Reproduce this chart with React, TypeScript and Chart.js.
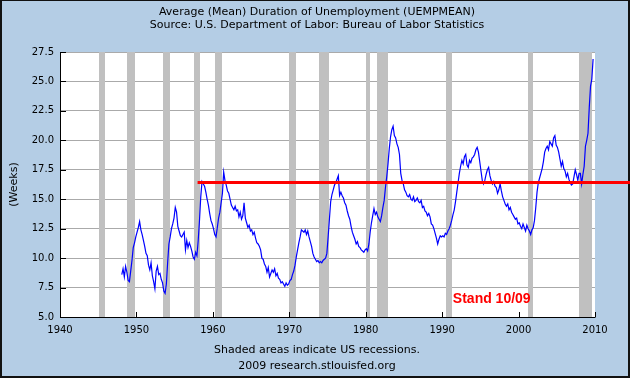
import React, { useEffect, useRef } from 'react';
import { Chart, registerables } from 'chart.js';

Chart.register(...registerables);

// ---- Data: bi-monthly readings (Feb, Apr, Jun, Aug, Oct, Dec), weeks ----
const START_YEAR = 1948 + 1 / 12;
const STEP_YEARS = 1 / 6;

const V_1948_1949 = [
  8.6, 9.1, 8.4, 9.3, 8.8, 8.1,
  8.0, 8.9, 9.8, 10.9, 11.3, 11.8,
];
const V_1950S = [
  12.2, 12.6, 13.1, 12.4, 12.0, 11.5,
  11.0, 10.4, 10.2, 9.4, 9.0, 9.6,
  8.5, 8.0, 7.4, 8.9, 9.3, 8.6,
  8.7, 8.2, 7.9, 7.2, 7.0, 7.8,
  9.6, 11.2, 11.8, 12.5, 12.9, 13.4,
  14.3, 13.9, 12.7, 12.3, 11.9, 11.8,
  12.0, 12.2, 10.7, 11.5, 10.9, 11.3,
  11.0, 10.6, 10.1, 9.9, 10.5, 10.2,
  11.5, 13.2, 15.2, 16.5, 16.3, 16.1,
  15.6, 15.0, 14.5, 13.8, 13.2, 12.9,
];
const V_1960S = [
  12.5, 12.0, 11.8, 12.6, 13.4, 13.9,
  14.7, 15.5, 17.3, 16.6, 16.2, 15.7,
  15.5, 15.0, 14.5, 14.3, 14.1, 14.4,
  14.0, 14.1, 13.5, 13.9, 13.3, 13.6,
  14.7, 13.4, 13.0, 12.6, 12.8, 12.3,
  12.4, 12.0, 12.2, 11.7, 11.3, 11.2,
  11.0, 10.7, 10.0, 9.9, 9.5, 9.3,
  8.8, 9.2, 8.4, 8.7, 9.0, 8.8,
  9.1, 8.5, 8.7, 8.3, 8.2, 7.9,
  8.0, 7.8, 7.6, 7.9, 7.7, 7.8,
];
const V_1970S = [
  8.1, 8.2, 8.6, 8.9, 9.4, 10.1,
  10.7, 11.3, 11.8, 12.4, 12.3, 12.2,
  12.4, 12.0, 12.3, 11.8, 11.4, 11.0,
  10.4, 10.1, 9.9, 9.7, 9.8, 9.6,
  9.7, 9.6, 9.8, 9.9, 10.0, 10.4,
  11.8, 13.3, 14.8, 15.4, 15.8, 16.2,
  16.4, 16.7, 17.0, 15.3, 15.6, 15.3,
  15.1, 14.7, 14.5, 14.0, 13.6, 13.3,
  12.7, 12.2, 11.9, 11.6, 11.2, 11.4,
  11.0, 10.9, 10.7, 10.6, 10.5, 10.7,
];
const V_1980S = [
  10.8, 10.6, 11.2, 12.2, 13.0, 13.6,
  14.2, 13.7, 13.9, 13.5, 13.3, 13.1,
  13.6, 14.3, 14.9, 16.0, 16.9, 18.0,
  19.3, 20.3, 20.9, 21.2, 20.4, 20.2,
  19.7, 19.4, 18.8, 17.2, 16.6, 16.3,
  15.8, 15.6, 15.3, 15.2, 15.4, 15.0,
  14.9, 15.2, 14.8, 14.9, 15.1, 14.8,
  14.7, 14.9, 14.3, 14.4, 14.0, 13.9,
  13.6, 13.8, 13.5, 12.9, 12.8, 12.5,
  12.1, 11.7, 11.2, 11.6, 11.9, 11.8,
];
const V_1990S = [
  11.9, 11.8, 12.1, 12.0, 12.3, 12.5,
  12.8, 13.2, 13.7, 14.1, 14.8, 15.6,
  16.4, 17.2, 17.8, 18.3, 18.0, 18.6,
  18.8, 17.9, 17.7, 18.3, 18.1, 18.5,
  18.6, 18.8, 19.2, 19.4, 19.0, 18.2,
  17.4, 16.6, 16.3, 16.6, 17.1, 17.5,
  17.7, 17.0, 16.6, 16.3, 16.5, 16.1,
  16.0, 15.5, 15.8, 16.3, 15.7, 15.2,
  14.9, 14.6, 14.4, 14.6, 14.1, 14.3,
  13.9, 13.7, 13.5, 13.3, 13.4, 12.9,
];
const V_2000S = [
  13.0, 12.7, 12.5, 12.9, 12.6, 12.3,
  12.8, 12.5, 12.3, 12.0, 12.4, 12.6,
  13.2, 14.3, 15.6, 16.4, 16.8, 17.2,
  17.6, 18.2, 19.0, 19.3, 19.5, 19.2,
  19.9, 19.7, 19.5, 20.2, 20.4, 19.6,
  19.4, 19.0, 18.4, 17.8, 18.2, 17.6,
  17.4, 16.9, 17.2, 16.7, 16.4, 16.2,
  16.3, 16.9, 17.5, 17.1, 16.6, 17.2,
  17.2, 16.3, 17.1, 17.8, 19.5, 20.0,
  20.6, 22.8, 24.6, 25.2, 26.9,
];
const UEMPMEAN = [...V_1948_1949, ...V_1950S, ...V_1960S, ...V_1970S, ...V_1980S, ...V_1990S, ...V_2000S];

// Recession periods (decimal years)
const RECESSIONS: [number, number][] = [
  [1945.08, 1945.83],
  [1948.83, 1949.83],
  [1953.5, 1954.42],
  [1957.58, 1958.33],
  [1960.25, 1961.17],
  [1969.92, 1970.92],
  [1973.83, 1975.25],
  [1980.0, 1980.58],
  [1981.5, 1982.92],
  [1990.5, 1991.25],
  [2001.17, 2001.92],
  [2007.92, 2009.58],
];

const X_MIN = 1940;
const X_MAX = 2010;
const X_STEP = 10;
const Y_MIN = 5;
const Y_MAX = 27.5;
const Y_STEP = 2.5;

const REF_LEVEL = 16.5;
const REF_START = 1958;
const NOTE_TEXT = 'Stand 10/09';
const NOTE_X = 1991.4;
const NOTE_Y = 6.55;

const TITLE_LINES = [
  'Average (Mean) Duration of Unemployment (UEMPMEAN)',
  'Source: U.S. Department of Labor: Bureau of Labor Statistics',
];
const FOOTER_LINES = ['Shaded areas indicate US recessions.', '2009 research.stlouisfed.org'];
const Y_TITLE = '(Weeks)';

const BG = '#b4cde5';
const FONT = '"DejaVu Sans", Verdana, sans-serif';

const framePlugin = {
  id: 'frame',
  beforeDraw(chart: any) {
    const { ctx, width, height, chartArea: a } = chart;
    ctx.save();
    ctx.fillStyle = '#111';
    ctx.fillRect(0, 0, width, height);
    ctx.fillStyle = BG;
    ctx.fillRect(2, 1, width - 4, height - 3);
    ctx.fillStyle = '#ffffff';
    ctx.fillRect(a.left, a.top, a.right - a.left, a.bottom - a.top);
    ctx.restore();
  },
};

const recessionPlugin = {
  id: 'recessions',
  beforeDatasetsDraw(chart: any) {
    const { ctx, chartArea: a } = chart;
    const xs = chart.scales.x;
    ctx.save();
    ctx.fillStyle = '#c0c0c0';
    for (const [s, e] of RECESSIONS) {
      const x0 = Math.round(xs.getPixelForValue(s));
      const x1 = Math.round(xs.getPixelForValue(e));
      ctx.fillRect(x0, a.top, Math.max(1, x1 - x0), a.bottom - a.top);
    }
    ctx.restore();
  },
};

const overlayPlugin = {
  id: 'overlay',
  afterDatasetsDraw(chart: any) {
    const { ctx, chartArea: a, width } = chart;
    const xs = chart.scales.x;
    const ys = chart.scales.y;
    ctx.save();
    ctx.strokeStyle = '#000';
    ctx.lineWidth = 1;
    ctx.beginPath();
    ctx.moveTo(a.left + 0.5, a.top);
    ctx.lineTo(a.left + 0.5, a.bottom + 0.5);
    ctx.lineTo(a.right + 0.5, a.bottom + 0.5);
    ctx.stroke();
    ctx.beginPath();
    for (const t of xs.ticks) {
      const px = Math.round(xs.getPixelForValue(t.value)) + 0.5;
      ctx.moveTo(px, a.bottom);
      ctx.lineTo(px, a.bottom - 5);
    }
    for (const t of ys.ticks) {
      const py = Math.round(ys.getPixelForValue(t.value)) + 0.5;
      ctx.moveTo(a.left, py);
      ctx.lineTo(a.left + 6, py);
    }
    ctx.stroke();
    const ry = Math.round(ys.getPixelForValue(REF_LEVEL));
    ctx.strokeStyle = '#ff0000';
    ctx.lineWidth = 3;
    ctx.beginPath();
    ctx.moveTo(xs.getPixelForValue(REF_START), ry + 0.5);
    ctx.lineTo(width, ry + 0.5);
    ctx.stroke();
    ctx.fillStyle = '#ff0000';
    ctx.font = 'bold 14px "Liberation Sans", Arial, sans-serif';
    ctx.textAlign = 'left';
    ctx.textBaseline = 'middle';
    ctx.fillText(NOTE_TEXT, xs.getPixelForValue(NOTE_X), ys.getPixelForValue(NOTE_Y));
    ctx.restore();
  },
  afterDraw(chart: any) {
    const { ctx } = chart;
    ctx.save();
    ctx.fillStyle = '#000';
    ctx.font = '11px ' + FONT;
    ctx.textAlign = 'center';
    ctx.textBaseline = 'middle';
    ctx.fillText(TITLE_LINES[0], 317, 12);
    ctx.fillText(TITLE_LINES[1], 317, 25);
    ctx.fillText(FOOTER_LINES[0], 317, 350);
    ctx.fillText(FOOTER_LINES[1], 317, 366.5);
    ctx.restore();
  },
};

export default function App() {
  const ref = useRef<HTMLCanvasElement | null>(null);

  useEffect(() => {
    if (!ref.current) return;
    const points = UEMPMEAN.map((v, i) => ({ x: START_YEAR + i * STEP_YEARS, y: v }));
    const chart = new Chart(ref.current, {
      type: 'line',
      data: {
        datasets: [
          {
            data: points,
            borderColor: '#0000ff',
            borderWidth: 1.2,
            pointRadius: 0,
            tension: 0,
            fill: false,
          },
        ],
      },
      options: {
        animation: false,
        responsive: false,
        devicePixelRatio: 1,
        layout: { padding: { top: 52, left: 0, right: 35, bottom: 36 } },
        plugins: {
          legend: { display: false },
          tooltip: { enabled: false },
          title: { display: false },
        },
        scales: {
          x: {
            type: 'linear',
            min: X_MIN,
            max: X_MAX,
            grid: { display: false, drawTicks: false },
            border: { display: false },
            ticks: {
              stepSize: X_STEP,
              autoSkip: false,
              maxRotation: 0,
              padding: 7,
              color: '#000',
              font: { family: FONT, size: 10 },
              callback: (v: any) => String(v),
            },
            afterFit: (s: any) => {
              s.height = 25;
            },
          },
          y: {
            type: 'linear',
            min: Y_MIN,
            max: Y_MAX,
            grid: { color: '#aaaaaa', lineWidth: 1, drawTicks: false },
            border: { display: false },
            ticks: {
              stepSize: Y_STEP,
              padding: 6,
              color: '#000',
              font: { family: FONT, size: 10 },
              callback: (v: any) => Number(v).toFixed(1),
            },
            title: {
              display: true,
              text: Y_TITLE,
              color: '#000',
              font: { family: FONT, size: 11 },
              padding: { top: 8, bottom: 0 },
            },
            afterFit: (s: any) => {
              s.width = 60;
            },
          },
        },
      },
      plugins: [framePlugin, recessionPlugin, overlayPlugin],
    });
    return () => chart.destroy();
  }, []);

  return (
    <div style={{ position: 'absolute', left: 0, top: 0, width: 630, height: 378 }}>
      <canvas ref={ref} width={630} height={378} style={{ display: 'block' }} />
    </div>
  );
}
